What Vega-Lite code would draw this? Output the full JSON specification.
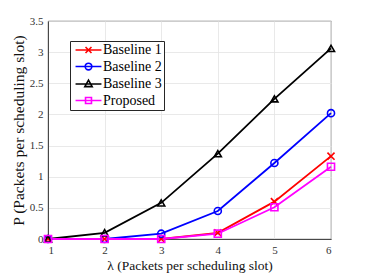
{
  "$schema": "https://vega.github.io/schema/vega-lite/v6.json",
  "autosize": "none",
  "width": 283,
  "height": 218,
  "padding": {"left": 48, "top": 21, "right": 35, "bottom": 35},
  "background": "white",
  "config": {
    "font": "Liberation Serif",
    "view": {"stroke": "#262626", "strokeWidth": 0.8},
    "axis": {
      "domainColor": "#262626",
      "domainWidth": 0.8,
      "gridColor": "#e3e3e3",
      "gridWidth": 0.8,
      "ticks": false,
      "labelColor": "#333333",
      "labelFontSize": 11,
      "labelPadding": 5,
      "titleColor": "#111111",
      "titleFontSize": 13,
      "titleFontWeight": "normal"
    }
  },
  "data": {
    "values": [
      {"lambda": 1, "P": 0, "series": "Baseline 1"},
      {"lambda": 2, "P": 0, "series": "Baseline 1"},
      {"lambda": 3, "P": 0, "series": "Baseline 1"},
      {"lambda": 4, "P": 0.1, "series": "Baseline 1"},
      {"lambda": 5, "P": 0.6, "series": "Baseline 1"},
      {"lambda": 6, "P": 1.33, "series": "Baseline 1"},
      {"lambda": 1, "P": 0, "series": "Baseline 2"},
      {"lambda": 2, "P": 0, "series": "Baseline 2"},
      {"lambda": 3, "P": 0.085, "series": "Baseline 2"},
      {"lambda": 4, "P": 0.45, "series": "Baseline 2"},
      {"lambda": 5, "P": 1.22, "series": "Baseline 2"},
      {"lambda": 6, "P": 2.02, "series": "Baseline 2"},
      {"lambda": 1, "P": 0, "series": "Baseline 3"},
      {"lambda": 2, "P": 0.1, "series": "Baseline 3"},
      {"lambda": 3, "P": 0.58, "series": "Baseline 3"},
      {"lambda": 4, "P": 1.37, "series": "Baseline 3"},
      {"lambda": 5, "P": 2.25, "series": "Baseline 3"},
      {"lambda": 6, "P": 3.06, "series": "Baseline 3"},
      {"lambda": 1, "P": 0, "series": "Proposed"},
      {"lambda": 2, "P": 0, "series": "Proposed"},
      {"lambda": 3, "P": 0, "series": "Proposed"},
      {"lambda": 4, "P": 0.085, "series": "Proposed"},
      {"lambda": 5, "P": 0.51, "series": "Proposed"},
      {"lambda": 6, "P": 1.16, "series": "Proposed"}
    ]
  },
  "encoding": {
    "x": {
      "field": "lambda", "type": "quantitative",
      "scale": {"domain": [1, 6], "nice": false, "zero": false},
      "axis": {"values": [1, 2, 3, 4, 5, 6], "title": "λ (Packets per scheduling slot)", "titlePadding": 3, "titleFontSize": 13.5}
    },
    "y": {
      "field": "P", "type": "quantitative",
      "scale": {"domain": [0, 3.5], "nice": false},
      "axis": {"values": [0, 0.5, 1, 1.5, 2, 2.5, 3, 3.5], "labelExpr": "datum.value + ''", "title": "P (Packets per scheduling slot)", "titlePadding": 3, "titleFontSize": 15.5}
    },
    "color": {
      "field": "series", "type": "nominal",
      "scale": {"domain": ["Baseline 1", "Baseline 2", "Baseline 3", "Proposed"], "range": ["#ff0000", "#0000ff", "#000000", "#ff00ff"]},
      "legend": {
        "orient": "none",
        "legendX": 22,
        "legendY": 20,
        "title": null,
        "fillColor": "white",
        "strokeColor": "#262626",
        "padding": 2,
        "symbolSize": 49,
        "symbolStrokeWidth": 1.6,
        "symbolOffset": 9.5,
        "labelOffset": 7.5,
        "labelFontSize": 14,
        "labelColor": "black",
        "rowPadding": 2.5,
        "encode": {
          "symbols": {
            "update": {
              "shape": {"signal": "datum.label === 'Baseline 1' ? 'M-3.7,0H3.7M-0.85,-0.85L0.85,0.85M-0.85,0.85L0.85,-0.85' : datum.label === 'Baseline 2' ? 'M-3.7,0H3.7M0.95,0A0.95,0.95 0 1,1 -0.95,0A0.95,0.95 0 1,1 0.95,0' : datum.label === 'Baseline 3' ? 'M-3.7,0H3.7M0,-1.1L1.05,0.75L-1.05,0.75Z' : 'M-3.7,0H3.7M-0.85,-0.85H0.85V0.85H-0.85Z'"},
              "fill": {"value": "transparent"}
            }
          }
        }
      }
    }
  },
  "layer": [
    {
      "mark": {"type": "line", "strokeWidth": 1.8}
    },
    {
      "mark": {"type": "point", "filled": false, "strokeWidth": 1.6, "size": 50, "opacity": 1},
      "encoding": {
        "shape": {
          "condition": [
            {"test": "datum.series === 'Baseline 1'", "value": "M-1,-1L1,1M-1,1L1,-1"},
            {"test": "datum.series === 'Baseline 2'", "value": "circle"},
            {"test": "datum.series === 'Baseline 3'", "value": "triangle-up"}
          ],
          "value": "square"
        }
      }
    }
  ]
}
